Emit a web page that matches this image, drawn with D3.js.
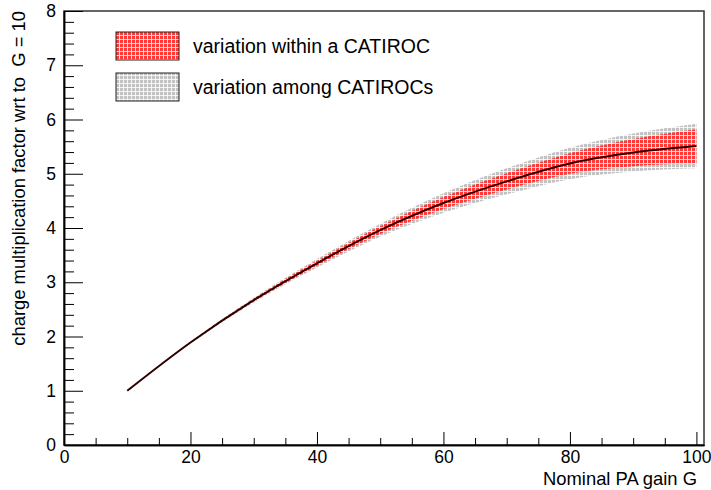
<!DOCTYPE html>
<html>
<head>
<meta charset="utf-8">
<script src="https://cdn.jsdelivr.net/npm/d3@7"></script>
<style>
  body { margin: 0; background: #fff; }
  svg { display: block; font-family: "Liberation Sans", Arial, sans-serif; }
</style>
</head>
<body>
<svg id="chart" width="711" height="490"></svg>
<script>
// ---- data ----
const gains = [10, 20, 30, 40, 50, 60, 70, 80, 90, 100];
const factor = [1.00, 1.89, 2.67, 3.35, 3.96, 4.46, 4.86, 5.19, 5.39, 5.51];
const withinErr = [0.00, 0.01, 0.025, 0.045, 0.07, 0.11, 0.15, 0.19, 0.25, 0.31];
const amongErr = [0.00, 0.02, 0.045, 0.08, 0.12, 0.18, 0.24, 0.29, 0.35, 0.41];
const xMajorTicks = [0, 20, 40, 60, 80, 100];
const yMajorTicks = [0, 1, 2, 3, 4, 5, 6, 7, 8];
const legendLabels = ["variation within a CATIROC", "variation among CATIROCs"];
const xTitle = "Nominal PA gain G";
const yTitle = "charge multiplication factor wrt to  G = 10";

// ---- layout ----
const L = 64, T = 11, R = 704, B = 445;
const svg = d3.select("#chart");
const x = d3.scaleLinear().domain([0, 101.2]).range([L, R]);
const y = d3.scaleLinear().domain([0, 8]).range([B, T]);

// patterns
const defs = svg.append("defs");
function pat(id, bg) {
  const p = defs.append("pattern").attr("id", id).attr("patternUnits", "userSpaceOnUse")
    .attr("width", 4).attr("height", 4);
  p.append("rect").attr("width", 4).attr("height", 4).attr("fill", bg);
  p.append("rect").attr("x", 3).attr("y", 0).attr("width", 1).attr("height", 4).attr("fill", "#fff").attr("opacity", 0.8);
  p.append("rect").attr("x", 0).attr("y", 3).attr("width", 4).attr("height", 1).attr("fill", "#fff").attr("opacity", 0.8);
}
pat("pRed", "#ff3838");
pat("pGray", "#c2c2c2");

const data = gains.map((g, i) => ({ g, v: factor[i], w: withinErr[i], a: amongErr[i] }));
const curve = d3.curveMonotoneX;

const areaAmong = d3.area().x(d => x(d.g)).y0(d => y(d.v - d.a)).y1(d => y(d.v + d.a)).curve(curve);
const areaWithin = d3.area().x(d => x(d.g)).y0(d => y(d.v - d.w)).y1(d => y(d.v + d.w)).curve(curve);
const line = d3.line().x(d => x(d.g)).y(d => y(d.v)).curve(curve);

svg.append("path").datum(data).attr("d", areaAmong).attr("fill", "url(#pGray)");
svg.append("path").datum(data).attr("d", areaWithin).attr("fill", "url(#pRed)");
svg.append("path").datum(data).attr("d", line).attr("fill", "none").attr("stroke", "#2a0000").attr("stroke-width", 2);

// frame
svg.append("rect").attr("x", L).attr("y", T).attr("width", R - L).attr("height", B - T)
  .attr("fill", "none").attr("stroke", "#333").attr("stroke-width", 1.5);

// axes
const xMinor = d3.range(5, 101, 5).filter(v => v % 20 !== 0);
const yMinor = d3.range(0, 8.001, 0.2).map(v => +v.toFixed(1)).filter(v => Math.abs(v - Math.round(v)) > 1e-6);

svg.append("g").attr("transform", `translate(0,${B})`)
  .call(d3.axisBottom(x).tickValues(xMajorTicks).tickSize(-13).tickSizeOuter(0).tickPadding(6).tickFormat(d3.format("d")));
svg.append("g").attr("transform", `translate(0,${B})`)
  .call(d3.axisBottom(x).tickValues(xMinor).tickSize(-7).tickSizeOuter(0).tickFormat(""));
svg.append("g").attr("transform", `translate(${L},0)`)
  .call(d3.axisLeft(y).tickValues(yMajorTicks).tickSize(-19).tickSizeOuter(0).tickPadding(8).tickFormat(d3.format("d")));
svg.append("g").attr("transform", `translate(${L},0)`)
  .call(d3.axisLeft(y).tickValues(yMinor).tickSize(-10).tickSizeOuter(0).tickFormat(""));

svg.selectAll(".domain").attr("stroke", "#000").attr("stroke-width", 1.5);
svg.selectAll(".tick line").attr("stroke", "#000").attr("stroke-width", 1);
svg.selectAll(".tick text").attr("font-size", 17.5).attr("fill", "#000")
  .attr("font-family", "'Liberation Sans', Arial, sans-serif");

// titles
svg.append("text").attr("x", 697).attr("y", 485).attr("text-anchor", "end")
  .attr("font-size", 18.4).attr("fill", "#000").text(xTitle);
svg.append("text").attr("transform", "translate(25,11) rotate(-90)").attr("text-anchor", "end")
  .attr("font-size", 18.4).attr("fill", "#000").style("white-space", "pre").text(yTitle);

// legend
const leg = svg.append("g");
const fills = ["url(#pRed)", "url(#pGray)"];
legendLabels.forEach((lab, i) => {
  const yy = 32 + i * 41;
  leg.append("rect").attr("x", 116).attr("y", yy).attr("width", 63).attr("height", 28)
    .attr("fill", fills[i]).attr("stroke", "#222").attr("stroke-width", 1);
  leg.append("text").attr("x", 193).attr("y", yy + 21).attr("font-size", 19.5).attr("fill", "#000").text(lab);
});
</script>
</body>
</html>
